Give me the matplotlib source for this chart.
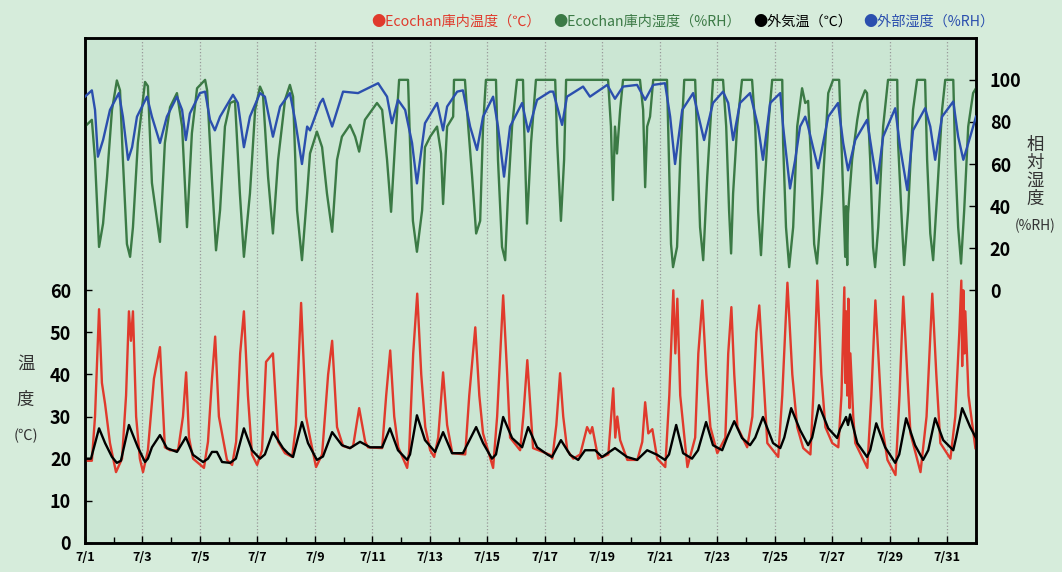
import matplotlib
matplotlib.use("Agg")
import matplotlib.pyplot as plt
from matplotlib.ticker import MultipleLocator

# time in days since 7/1 00:00
red_t = [0.00, 0.24, 0.35, 0.49, 0.59, 0.70, 0.87, 1.08, 1.29, 1.43, 1.53, 1.60, 1.67, 1.78, 1.91,
         2.02, 2.19, 2.40, 2.61, 2.78, 2.96, 3.24, 3.41, 3.52, 3.62, 3.76, 4.14, 4.28, 4.42, 4.53,
         4.66, 4.94, 5.12, 5.26, 5.40, 5.53, 5.67, 5.81, 5.99, 6.16, 6.30, 6.54, 6.72, 6.96, 7.21,
         7.34, 7.52, 7.69, 7.83, 8.04, 8.25, 8.46, 8.60, 8.77, 8.98, 9.22, 9.33, 9.54, 9.75, 9.85,
         10.34, 10.48, 10.62, 10.76, 10.90, 11.21, 11.28, 11.42, 11.56, 11.70, 11.84, 12.01, 12.15,
         12.29, 12.46, 12.60, 12.78, 13.23, 13.37, 13.58, 13.72, 13.85, 14.20, 14.34, 14.55, 14.69,
         14.79, 15.14, 15.25, 15.39, 15.59, 16.19, 16.26, 16.40, 16.53, 16.64, 16.78, 16.99, 17.23,
         17.47, 17.58, 17.65, 17.86, 18.21, 18.38, 18.45, 18.52, 18.62, 18.87, 19.22, 19.39, 19.49,
         19.60, 19.74, 19.91, 20.19, 20.33, 20.47, 20.54, 20.61, 20.71, 20.96, 21.23, 21.34, 21.48,
         21.62, 21.76, 22.00, 22.28, 22.38, 22.49, 22.59, 22.70, 23.04, 23.22, 23.36, 23.46, 23.60,
         23.74, 24.12, 24.26, 24.44, 24.61, 24.78, 24.99, 25.24, 25.34, 25.48, 25.62, 25.76, 26.00,
         26.21, 26.32, 26.42, 26.45, 26.49, 26.52, 26.56, 26.60, 26.63, 26.73, 26.80, 27.22, 27.36,
         27.50, 27.60, 27.74, 27.92, 28.20, 28.34, 28.47, 28.61, 28.72, 29.07, 29.28, 29.48, 29.62,
         29.76, 30.11, 30.28, 30.42, 30.49, 30.52, 30.56, 30.60, 30.63, 30.74, 30.98]
red_v = [19.5, 19.5, 30, 55.5, 38, 33, 23.7, 16.8, 20, 35, 55, 48, 55, 30, 20,
         16.8, 22, 39, 46.5, 22.7, 22, 22, 30, 40.5, 25, 20, 17.8, 24, 39, 49,
         30, 19.7, 18.5, 24, 45, 55, 35, 21, 18.5, 22, 43, 45, 24, 21.3, 20.4,
         28, 57, 30, 25, 18, 21, 40, 48, 27.5, 23, 22.5, 23, 32, 24, 22.7,
         22.5, 35, 45.7, 30, 22.7, 17.8, 22, 45, 59.2, 40, 27.5, 22, 20.4,
         25, 40.5, 28, 21.3, 21, 35, 51.2, 35, 26, 17.8, 30, 58.8, 40,
         25, 22, 30, 43.4, 22.5, 20.9, 20, 28, 40.3, 30, 22, 20, 21,
         27.5, 26, 27.5, 20, 21, 36.7, 25, 30, 24.4, 19.7, 19.7, 24, 33.4,
         26, 27, 20, 18, 35, 60, 45, 58, 35, 18, 25, 45, 57.6,
         40, 27.5, 21.3, 25, 45, 56, 40, 27.5, 22.7, 30, 50, 56.4, 40,
         23.7, 20.4, 35, 61.8, 40, 27.5, 22.5, 21, 35, 62.3, 40, 27.5, 23.7,
         22.7, 35, 60.7, 38, 55, 35, 58, 32, 45, 30, 23.7, 17.8, 35,
         57.6, 45, 27.5, 19.7, 16.1, 35, 58.5, 40, 26, 16.8, 30, 59.2, 40,
         23.7, 20, 30, 50, 62.3, 42, 60, 45, 55, 35, 22.5]

black_t = [0.00, 0.21, 0.49, 0.70, 0.94, 1.11, 1.25, 1.53, 1.84, 2.09, 2.19, 2.33, 2.61, 2.85, 3.20,
           3.51, 3.76, 4.11, 4.28, 4.42, 4.59, 4.77, 5.05, 5.25, 5.53, 5.81, 6.09, 6.26, 6.54, 6.89,
           7.06, 7.24, 7.55, 7.76, 8.07, 8.28, 8.60, 8.94, 9.22, 9.57, 9.92, 10.34, 10.61, 10.89,
           11.21, 11.31, 11.55, 11.83, 12.18, 12.46, 12.77, 13.15, 13.61, 13.85, 14.16, 14.30, 14.55,
           14.86, 15.21, 15.42, 15.73, 16.11, 16.25, 16.56, 16.88, 17.16, 17.40, 17.75, 17.99, 18.44,
           18.86, 19.21, 19.56, 19.91, 20.18, 20.32, 20.57, 20.81, 21.12, 21.33, 21.61, 21.85, 22.17,
           22.34, 22.59, 22.86, 23.14, 23.32, 23.59, 23.94, 24.19, 24.33, 24.57, 24.88, 25.16, 25.30,
           25.54, 25.86, 26.17, 26.27, 26.48, 26.55, 26.62, 26.87, 27.21, 27.32, 27.53, 27.84, 28.19,
           28.33, 28.57, 28.88, 29.16, 29.34, 29.58, 29.86, 30.21, 30.31, 30.52, 30.80, 31.00]
black_v = [20, 20, 27.2, 23.7, 20.4, 19, 19.5, 28, 22.7, 19.2, 20, 22.7, 25.6, 22.5, 21.6,
           25.1, 20.9, 19.2, 20, 21.6, 21.6, 19.2, 19, 20, 27.2, 22, 20, 21, 26.3, 22.5,
           21.3, 20.4, 28.7, 23.7, 19.7, 20.5, 26.3, 23.2, 22.5, 24, 22.7, 22.7, 27.2, 22,
           19.7, 21, 30.3, 24.4, 21.6, 26.3, 21.3, 21.3, 27.5, 23.7, 20, 21, 29.9,
           24.9, 22.7, 27.5, 22.7, 20.9, 20.4, 24.4, 20.9, 19.7, 22, 22, 20.4, 22.5,
           20.4, 19.7, 22, 20.9, 19.7, 21, 28, 21.3, 20, 22, 28.7, 23.2, 22,
           25, 28.9, 24.9, 23.2, 25, 29.9, 23.7, 22.5, 25, 32, 26.8, 23.2, 25,
           32.7, 27.2, 24.9, 27, 29.9, 28, 30.5, 23.7, 20.4, 22, 28.4, 22.7, 19,
           21, 29.6, 23.2, 19.7, 22, 29.6, 24.4, 22, 25, 32, 27.5, 24.9]

green_t = [0.00, 0.24, 0.35, 0.49, 0.63, 0.77, 0.94, 1.11, 1.22, 1.32, 1.46, 1.57, 1.67, 1.84, 2.09,
           2.19, 2.33, 2.51, 2.61, 2.78, 2.96, 3.20, 3.38, 3.55, 3.72, 3.90, 4.18, 4.25, 4.42, 4.56,
           4.70, 4.87, 5.05, 5.22, 5.39, 5.53, 5.74, 5.92, 6.09, 6.19, 6.37, 6.54, 6.72, 6.96, 7.13,
           7.24, 7.38, 7.55, 7.73, 7.83, 8.07, 8.25, 8.42, 8.60, 8.77, 8.94, 9.22, 9.40, 9.54, 9.74,
           10.16, 10.34, 10.51, 10.65, 10.79, 10.93, 11.24, 11.31, 11.41, 11.55, 11.73, 11.83, 12.01,
           12.25, 12.39, 12.46, 12.60, 12.81, 12.84, 13.22, 13.29, 13.47, 13.61, 13.75, 13.85, 13.95,
           14.30, 14.37, 14.51, 14.62, 14.72, 14.86, 15.03, 15.24, 15.28, 15.38, 15.52, 15.69, 16.36,
           16.43, 16.56, 16.67, 16.74, 18.20, 18.30, 18.37, 18.44, 18.51, 18.62, 18.72, 19.31, 19.42,
           19.49, 19.56, 19.66, 19.77, 20.25, 20.29, 20.39, 20.46, 20.60, 20.71, 20.85, 21.23, 21.30,
           21.40, 21.51, 21.65, 21.78, 21.85, 22.20, 22.31, 22.41, 22.48, 22.55, 22.69, 22.86, 23.21,
           23.32, 23.42, 23.52, 23.63, 23.77, 23.91, 24.26, 24.29, 24.39, 24.50, 24.64, 24.78, 24.95,
           25.06, 25.16, 25.26, 25.37, 25.47, 25.65, 25.86, 26.03, 26.24, 26.34, 26.45, 26.48, 26.52,
           26.55, 26.69, 26.87, 26.97, 27.14, 27.21, 27.32, 27.42, 27.49, 27.60, 27.77, 27.94, 28.26,
           28.29, 28.43, 28.50, 28.64, 28.81, 28.95, 29.23, 29.30, 29.41, 29.51, 29.65, 29.82, 29.93,
           30.21, 30.28, 30.38, 30.48, 30.59, 30.73, 30.90, 31.00]
green_v = [77.8, 81, 62, 20.6, 31.7, 54, 85.7, 99.7, 95, 62, 22, 15.9, 30, 70, 99,
           97, 51, 33, 23, 70, 87, 93.7, 77.8, 30, 74.6, 96, 100, 95, 52, 19,
           38, 77.8, 89, 90, 46, 15.9, 46, 85.7, 96.8, 93.7, 54, 27, 62, 90.5, 97.6,
           92, 38, 14.3, 46, 65, 75.4, 68, 46, 27.8, 62, 73, 78.6, 73, 65.9, 81,
           89, 85.7, 62, 37.3, 70, 100, 100, 70, 33, 18.3, 38, 68, 73,
           77.8, 65, 41, 77.8, 82.5, 100, 100, 85.7, 54, 27, 33, 77.8, 100,
           100, 62, 20.6, 14.3, 46, 77.8, 100, 100, 77.8, 31.7, 70, 100, 100,
           70, 33, 62, 100, 100, 77.8, 42.9, 77.8, 65, 85.7, 100, 100, 85.7,
           49, 77.8, 82.5, 100, 100, 77.8, 22, 11, 20.6, 62, 100, 100, 70,
           30, 14.3, 54, 84, 100, 100, 77.8, 38, 17.5, 46, 77.8, 100, 100,
           77.8, 38, 16.7, 46, 77.8, 100, 100, 70, 30, 11, 30, 77.8, 96,
           89, 90, 62, 22, 12.7, 46, 93.7, 100, 100, 62, 15.9, 40, 12,
           36.5, 62, 81, 89, 95, 93.7, 62, 20.6, 11, 30, 77.8, 100, 100,
           70, 30, 12, 38, 85.7, 100, 100, 62, 27, 14.3, 46, 85.7, 100,
           100, 62, 30, 12.7, 38, 77.8, 93.7, 96]

blue_t = [0.00, 0.24, 0.35, 0.45, 0.63, 0.87, 1.18, 1.32, 1.50, 1.64, 1.81, 2.16, 2.33, 2.61, 2.85,
          3.20, 3.38, 3.51, 3.65, 4.00, 4.18, 4.35, 4.52, 4.70, 5.15, 5.32, 5.53, 5.74, 6.09, 6.26,
          6.54, 6.79, 7.13, 7.31, 7.55, 7.73, 7.83, 8.18, 8.28, 8.60, 8.98, 9.50, 10.20, 10.51, 10.68,
          10.89, 11.14, 11.38, 11.55, 11.83, 12.25, 12.46, 12.60, 12.95, 13.15, 13.40, 13.64, 13.85,
          14.20, 14.37, 14.58, 14.79, 15.21, 15.42, 15.73, 16.18, 16.29, 16.60, 16.77, 17.33, 17.57,
          18.17, 18.44, 18.72, 19.21, 19.49, 19.77, 20.18, 20.36, 20.53, 20.78, 21.16, 21.54, 21.85,
          22.20, 22.38, 22.55, 22.79, 23.14, 23.42, 23.59, 23.84, 24.19, 24.29, 24.53, 24.71, 24.88,
          25.06, 25.16, 25.33, 25.51, 25.86, 26.20, 26.38, 26.55, 26.80, 27.21, 27.39, 27.56, 27.77,
          28.19, 28.36, 28.61, 28.81, 29.23, 29.41, 29.58, 29.82, 30.21, 30.38, 30.56, 30.80, 31.00]
blue_v = [92, 95, 85.7, 63.5, 71.4, 85.7, 93.7, 82.5, 62, 68, 82.5, 92, 82.5, 70, 82.5,
          92, 85.7, 71.4, 84, 93.7, 94.4, 81, 76, 82.5, 92.9, 89, 68, 82.5, 93.7, 92,
          73, 87.3, 93.7, 81, 60, 77.8, 76, 89, 91, 77.8, 94.4, 93.7, 98.4, 92, 79.4,
          90.5, 85.7, 70, 50.8, 79.4, 89, 76, 87.3, 94.4, 95, 77.8, 66.7, 82.5,
          92, 77.8, 54, 77.8, 89, 75.4, 90.5, 94.4, 94.4, 78.6, 92, 96.8, 92,
          97.6, 91, 96.8, 97.6, 90.5, 97.6, 98.4, 82.5, 60, 85.7, 93.7, 71.4, 89,
          94.4, 89, 71.4, 89, 93.7, 77.8, 62, 89, 93.7, 77.8, 48.4, 62, 77.8,
          82.5, 77.8, 68, 58, 82.5, 89, 70, 57, 71.4, 81, 65, 50.8, 73,
          86.5, 68, 47.6, 76, 86.5, 77.8, 62, 82.5, 89.7, 73, 62, 73, 82.5]

date_ticks = [0, 2, 4, 6, 8, 10, 12, 14, 16, 18, 20, 22, 24, 26, 28, 30]
date_labels = ["7/1", "7/3", "7/5", "7/7", "7/9", "7/11", "7/13", "7/15",
               "7/17", "7/19", "7/21", "7/23", "7/25", "7/27", "7/29", "7/31"]
temp_ticks = [0, 10, 20, 30, 40, 50, 60]
rh_ticks = [0, 20, 40, 60, 80, 100]

legend_items = [("●Ecochan庫内温度（℃）", "#e03a2c"),
                ("●Ecochan庫内湿度（%RH）", "#3b7a45"),
                ("●外気温（℃）", "#000000"),
                ("●外部湿度（%RH）", "#2b4fae")]

jp = ["Noto Sans CJK JP", "DejaVu Sans"]
plt.rcParams["font.family"] = jp

fig = plt.figure(figsize=(10.62, 5.72), dpi=100, facecolor="#d6ecdb")
ax = fig.add_axes([0.080, 0.051, 0.839, 0.883])
ax.set_facecolor("#cbe6d3")
ax2 = ax.twinx()
ax2.patch.set_visible(False)

ax2.plot(green_t, green_v, color="#3b7a45", lw=1.7, zorder=2)
ax2.plot(blue_t, blue_v, color="#2b4fae", lw=1.7, zorder=3)
ax.plot(red_t, red_v, color="#e03a2c", lw=1.7, zorder=3)
ax.plot(black_t, black_v, color="#000000", lw=1.7, zorder=4)

ax.set_xlim(0, 31)
ax.set_ylim(0, 120)
ax2.set_ylim(-120, 120)

ax.set_xticks(date_ticks)
ax.set_xticklabels(date_labels, fontsize=9, fontweight="bold")
ax.xaxis.set_minor_locator(MultipleLocator(1))
ax.grid(axis="x", which="major", color="#999999", linestyle=":", lw=0.9)
ax.set_axisbelow(True)

ax.set_yticks(temp_ticks)
ax.set_yticklabels([str(v) for v in temp_ticks], fontsize=13, fontweight="bold")
ax2.set_yticks(rh_ticks)
ax2.set_yticklabels([str(v) for v in rh_ticks], fontsize=13, fontweight="bold")

ax.tick_params(axis="x", which="major", direction="in", length=5, width=1, pad=6)
ax.tick_params(axis="x", which="minor", direction="in", length=4, width=1)
ax.tick_params(axis="y", direction="in", length=5, width=1, pad=10)
ax2.tick_params(axis="y", direction="in", length=5, width=1, pad=10)

for a in (ax, ax2):
    for s in a.spines.values():
        s.set_linewidth(1.8)
        s.set_color("black")

fig.text(0.024, 0.332, "温\n\n度", fontsize=12.5, color="#333333", ha="center", va="center",
         linespacing=1.0)
fig.text(0.024, 0.238, "(℃)", fontsize=10.5, color="#333333", ha="center", va="center")
fig.text(0.975, 0.700, "相\n対\n湿\n度", fontsize=12.5, color="#333333", ha="center", va="center",
         linespacing=1.0)
fig.text(0.975, 0.605, "(%RH)", fontsize=10, color="#333333", ha="center", va="center")

x = 0.350
for label, col in legend_items:
    t = fig.text(x, 0.962, label, fontsize=10.2, color=col, ha="left", va="center")
    fig.canvas.draw()
    bb = t.get_window_extent()
    x = (bb.x1 + 12) / fig.bbox.width

fig.savefig("out.png", dpi=100, facecolor=fig.get_facecolor())
